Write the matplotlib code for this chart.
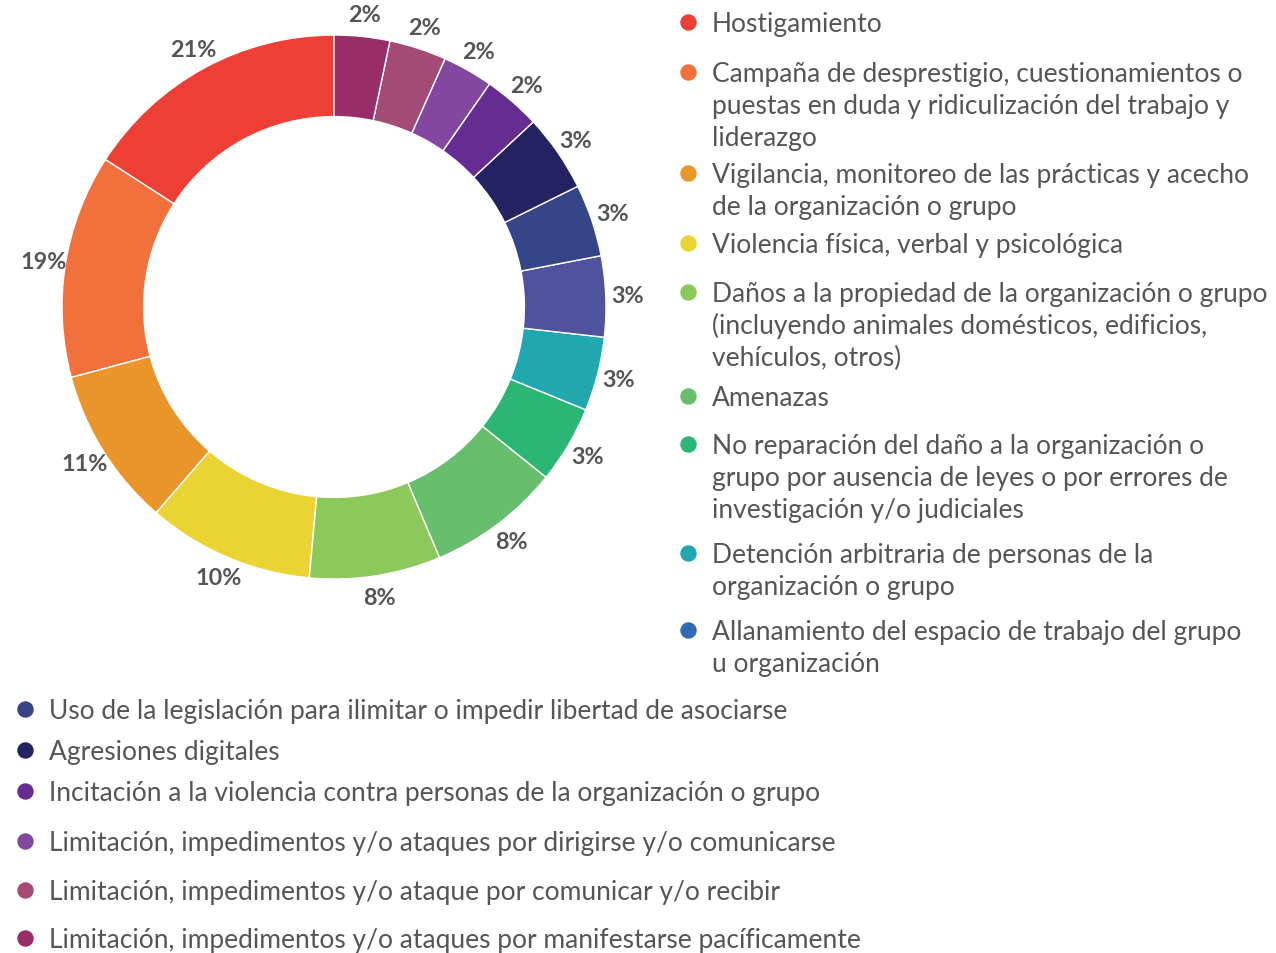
import matplotlib
matplotlib.use("Agg")
import matplotlib.pyplot as plt
import numpy as np

plt.rcParams["font.family"] = ["Lato", "DejaVu Sans"]

# slices, in drawing order (counter-clockwise from 12 o'clock)
categories = [
    "Hostigamiento",
    "Campaña de desprestigio, cuestionamientos o\npuestas en duda y ridiculización del trabajo y\nliderazgo",
    "Vigilancia, monitoreo de las prácticas y acecho\nde la organización o grupo",
    "Violencia física, verbal y psicológica",
    "Daños a la propiedad de la organización o grupo\n(incluyendo animales domésticos, edificios,\nvehículos, otros)",
    "Amenazas",
    "No reparación del daño a la organización o\ngrupo por ausencia de leyes o por errores de\ninvestigación y/o judiciales",
    "Detención arbitraria de personas de la\norganización o grupo",
    "Allanamiento del espacio de trabajo del grupo\nu organización",
    "Uso de la legislación para ilimitar o impedir libertad de asociarse",
    "Agresiones digitales",
    "Incitación a la violencia contra personas de la organización o grupo",
    "Limitación, impedimentos y/o ataques por dirigirse y/o comunicarse",
    "Limitación, impedimentos y/o ataque por comunicar y/o recibir",
    "Limitación, impedimentos y/o ataques por manifestarse pacíficamente",
]
# arc sizes as drawn in the chart (percent of the ring)
shares = [15.9, 13.3, 9.5, 9.9, 7.8, 7.9, 4.6, 4.4, 4.8, 4.3, 4.6, 3.4, 3.0, 3.4, 3.3]
# percentages printed next to each slice
pct_labels = ["21%", "19%", "11%", "10%", "8%", "8%", "3%", "3%", "3%", "3%", "3%",
              "2%", "2%", "2%", "2%"]
slice_colors = ["#EE3F37", "#F2703B", "#E9952A", "#E9D433", "#8DC85A", "#67BE6C",
                "#2BB673", "#21A7AE", "#4F539E", "#354588", "#252262", "#652D91",
                "#8447A0", "#A34A75", "#982D69"]
legend_colors = slice_colors[:8] + ["#2E6DB5"] + slice_colors[9:]

W, H = 1276, 954
TEXT = "#555555"

fig = plt.figure(figsize=(W / 100, H / 100), dpi=100)

# full-figure overlay in pixel units for the legend
overlay = fig.add_axes([0, 0, 1, 1])
overlay.set_xlim(0, W)
overlay.set_ylim(H, 0)
overlay.axis("off")

# donut
cx, cy, R = 334, 308, 272
lim = 1.2
half = lim * R
ax = fig.add_axes([(cx - half) / W, (H - cy - half) / H, 2 * half / W, 2 * half / H])
wedges, _ = ax.pie(
    shares,
    colors=slice_colors,
    startangle=90,
    counterclock=True,
    wedgeprops=dict(width=0.3, edgecolor="white", linewidth=1),
)
ax.set_xlim(-lim, lim)
ax.set_ylim(-lim, lim)
ax.set_aspect("equal")
ax.axis("off")

for wedge, label in zip(wedges, pct_labels):
    mid = np.deg2rad((wedge.theta1 + wedge.theta2) / 2)
    ax.text(1.08 * np.cos(mid), 1.08 * np.sin(mid), label, ha="center", va="center",
            fontsize=16.8, fontweight="bold", color=TEXT, clip_on=False)

# legend: right column then bottom block (x of marker, baseline of first line)
right_baselines = [32, 82, 183, 253, 302, 406, 454, 563, 640]
bottom_baselines = [719, 760, 801, 851, 900, 948]
positions = [(688, b) for b in right_baselines] + [(25, b) for b in bottom_baselines]
line_step = 32

for (mx, base), name, color in zip(positions, categories, legend_colors):
    overlay.scatter([mx], [base - 9.5], s=140, color=color, linewidths=0, zorder=3)
    for i, line in enumerate(name.split("\n")):
        overlay.text(mx + 24, base + i * line_step, line, ha="left", va="baseline",
                     fontsize=19, color=TEXT)

fig.savefig("out.png", dpi=100)
